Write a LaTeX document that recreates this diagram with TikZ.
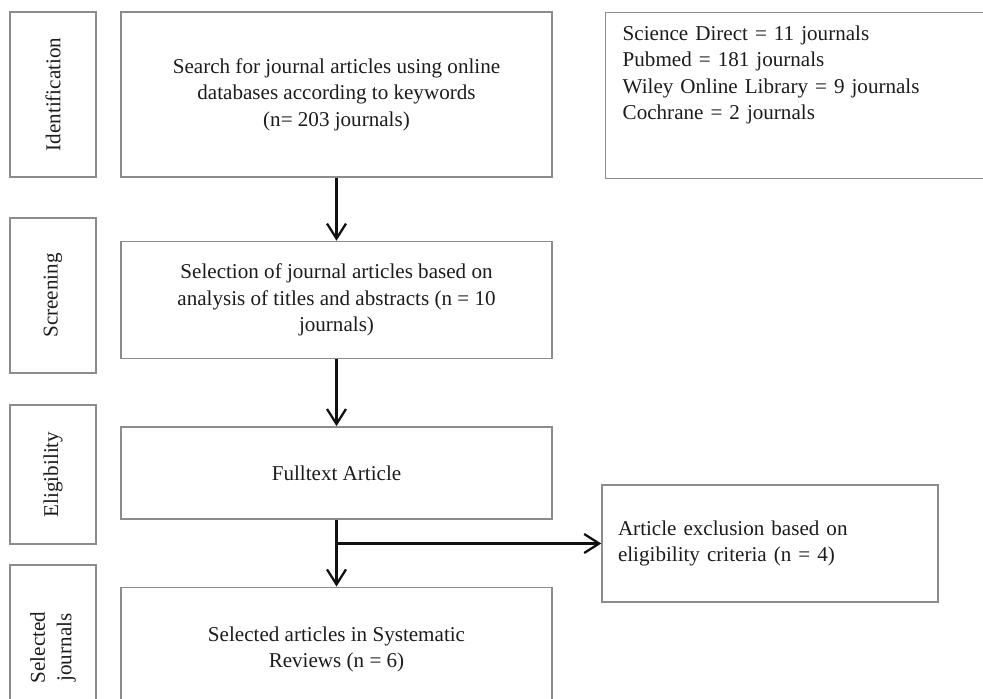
\documentclass[tikz,border=0pt]{standalone}
\usepackage{fontspec}
\setmainfont{Liberation Serif}
\usetikzlibrary{arrows.meta,positioning}
\definecolor{ink}{HTML}{1C1C1C}
\definecolor{boxgray}{HTML}{8C8C8C}
\definecolor{arrowblack}{HTML}{111111}

\begin{document}
\begin{tikzpicture}[
    font=\fontsize{12}{15}\selectfont,
    flowbox/.style={draw=boxgray,line width=0.8pt,minimum width=8.62cm,align=center,text=ink,inner sep=2pt},
    stagebox/.style={draw=boxgray,line width=0.8pt,rotate=90,minimum height=1.72cm,align=center,text=ink,inner sep=2pt},
    sidebox/.style={draw=boxgray,line width=0.8pt,align=left,text=ink},
    arr/.style={-{Straight Barb[length=3mm,width=3.8mm]},line width=1.3pt,draw=arrowblack}]
    \useasboundingbox (0,0) rectangle (19.66,-13.96);
    \clip (0,0) rectangle (19.66,-13.96);
    % main flow
    \node[flowbox,minimum height=3.3cm] (search) at (6.73,-1.89)
      {Search for journal articles using online\\databases according to keywords\\(n= 203 journals)};
    \node[flowbox,minimum height=2.34cm,below=1.26cm of search] (screen)
      {Selection of journal articles based on\\analysis of titles and abstracts (n = 10\\journals)};
    \node[flowbox,minimum height=1.84cm,below=1.34cm of screen] (full)
      {Fulltext Article};
    \node[flowbox,minimum height=2.48cm,below=1.34cm of full] (sel)
      {Selected articles in Systematic\\Reviews (n = 6)};
    % stage labels
    \node[stagebox,minimum width=3.3cm] (lident) at (1.06,-1.89) {Identification};
    \node[stagebox,minimum width=3.1cm] (lscreen) at (1.06,-5.91) {Screening};
    \node[stagebox,minimum width=2.78cm] (lelig) at (1.06,-9.49) {Eligibility};
    \node[stagebox,minimum width=3.3cm] (lsel) at (1.06,-12.95) {Selected\\journals};
    % side boxes
    \node[sidebox,anchor=north west,text width=7.42cm,inner xsep=0.34cm,inner ysep=0.26cm,text depth=2.5cm] (db) at (12.1,-0.24)
      {Science Direct = 11 journals\\Pubmed = 181 journals\\Wiley Online Library = 9 journals\\Cochrane = 2 journals};
    \node[sidebox,text width=6.08cm,inner xsep=0.32cm,minimum height=2.34cm] (excl) at (15.4,-10.87)
      {Article exclusion based on\\eligibility criteria (n = 4)};
    % connectors
    \draw[arr] (search) -- (screen);
    \draw[arr] (screen) -- (full);
    \draw[arr] (full) -- (sel);
    \draw[arr] (full.south |- excl.west) -- (excl.west);
\end{tikzpicture}
\end{document}
